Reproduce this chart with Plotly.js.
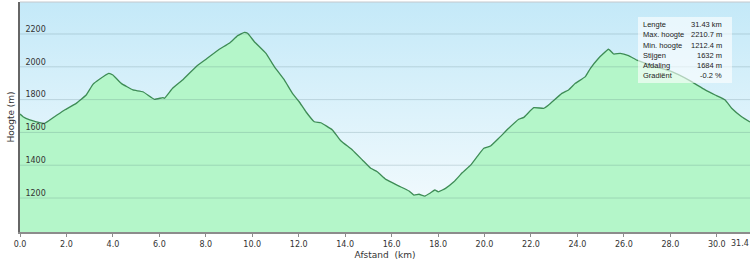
<!DOCTYPE html>
<html><head><meta charset="utf-8">
<script src="https://cdn.plot.ly/plotly-3.0.1.min.js"></script>
<style>html,body{margin:0;padding:0;background:#fff;overflow:hidden}#chart{width:750px;height:264px}</style>
</head><body><div id="chart"></div>
<script>
const distanceKm = [0, 0.13, 0.42, 0.70, 1.06, 1.49, 1.92, 2.42, 2.85, 3.14, 3.42, 3.82, 4.00, 4.36, 4.86, 5.29, 5.79, 6.15, 6.22, 6.57, 7.00, 7.58, 8.01, 8.58, 9.01, 9.37, 9.66, 9.80, 10.09, 10.59, 10.95, 11.38, 11.73, 12.02, 12.31, 12.67, 12.95, 13.45, 13.81, 14.31, 14.74, 15.10, 15.38, 15.75, 16.32, 16.75, 16.96, 17.18, 17.43, 17.68, 17.86, 18.01, 18.32, 18.68, 19.04, 19.40, 19.68, 19.97, 20.26, 20.61, 21.04, 21.47, 21.69, 22.12, 22.55, 22.76, 23.33, 23.62, 23.91, 24.34, 24.56, 24.91, 25.05, 25.34, 25.56, 25.84, 26.20, 26.56, 27.35, 28.06, 28.78, 29.50, 29.93, 30.36, 30.64, 31.07, 31.43];
const elevationM = [1712, 1696, 1676, 1665, 1655, 1696, 1737, 1777, 1828, 1893, 1924, 1960, 1950, 1899, 1859, 1848, 1802, 1812, 1808, 1869, 1920, 2001, 2046, 2107, 2143, 2190, 2210, 2204, 2153, 2082, 2001, 1920, 1838, 1787, 1726, 1665, 1659, 1615, 1549, 1493, 1432, 1381, 1360, 1314, 1273, 1243, 1218, 1223, 1212, 1232, 1249, 1238, 1259, 1299, 1354, 1401, 1452, 1503, 1517, 1564, 1625, 1680, 1692, 1751, 1747, 1767, 1838, 1859, 1899, 1940, 1991, 2052, 2072, 2107, 2078, 2082, 2068, 2041, 2001, 1970, 1920, 1859, 1828, 1798, 1747, 1696, 1664];
const yTickVals = [1200, 1400, 1600, 1800, 2000, 2200];
const xTickVals = [0, 2, 4, 6, 8, 10, 12, 14, 16, 18, 20, 22, 24, 26, 28, 30, 31.43];
const xTickText = ['0.0', '2.0', '4.0', '6.0', '8.0', '10.0', '12.0', '14.0', '16.0', '18.0', '20.0', '22.0', '24.0', '26.0', '28.0', '30.0', '31.4'];
const statLabels = ['Lengte', 'Max. hoogte', 'Min. hoogte', 'Stijgen', 'Afdaling', 'Gradiënt'];
const statValues = ['31.43 km', '2210.7 m', '1212.4 m', '1632 m', '1684 m', '-0.2 %'];

const FONT = 'DejaVu Sans, Verdana, sans-serif';
const SFONT = 'Liberation Sans, Arial, sans-serif';
const svg = "<svg xmlns='http://www.w3.org/2000/svg' width='100' height='100' viewBox='0 0 100 100' preserveAspectRatio='none'><defs><linearGradient id='g' x1='0' y1='0' x2='0' y2='1'><stop offset='0' stop-color='#c4e9f8'/><stop offset='1' stop-color='#f7fcfe'/></linearGradient></defs><rect width='100' height='100' fill='url(#g)'/></svg>";
const bgSrc = 'data:image/svg+xml;charset=utf-8,' + encodeURIComponent(svg);

const W = 750, H = 264, mL = 20, mR = 0, mT = 2, mB = 32;
const pw = W - mL - mR, ph = H - mT - mB;
const px2x = p => (p - mL) / pw;
const py2y = p => (H - mB - p) / ph;

const shapes = yTickVals.map(v => ({type: 'line', xref: 'paper', x0: 0, x1: 1, yref: 'y', y0: v, y1: v, layer: 'above', line: {color: 'rgba(60,95,105,0.2)', width: 1}}));
shapes.push({type: 'line', xref: 'paper', yref: 'paper', x0: 0, x1: 1, y0: 1, y1: 1, layer: 'above', line: {color: '#c4c8cc', width: 1}});
shapes.push({type: 'rect', xref: 'paper', yref: 'paper', x0: px2x(638), x1: px2x(732), y0: py2y(83), y1: py2y(17), layer: 'above', fillcolor: 'rgba(255,255,255,0.6)', line: {width: 0}});

const rowY = [25, 35, 45, 55, 65, 75];
const annotations = [];
statLabels.forEach((t, i) => {
  annotations.push({xref: 'paper', yref: 'paper', x: px2x(641), y: py2y(rowY[i]), xanchor: 'left', yanchor: 'middle', text: t, showarrow: false, font: {family: SFONT, size: 7.5, color: '#222'}});
  annotations.push({xref: 'paper', yref: 'paper', x: px2x(724), y: py2y(rowY[i]), xanchor: 'right', yanchor: 'middle', text: statValues[i], showarrow: false, font: {family: SFONT, size: 7.5, color: '#222'}});
});
// last tick label kept inside the window, right-aligned at its tick
const lastIdx = xTickVals.length - 1;
annotations.push({xref: 'x', yref: 'paper', x: xTickVals[lastIdx], y: py2y(243), xanchor: 'right', yanchor: 'middle', xshift: 1, text: xTickText[lastIdx], showarrow: false, font: {family: FONT, size: 8, color: '#333'}});
const axisTickText = xTickText.map((t, i) => i === lastIdx ? '' : t);

const trace = {
  x: distanceKm, y: elevationM, type: 'scatter', mode: 'lines',
  fill: 'tozeroy', fillcolor: 'rgb(180,246,201)',
  line: {color: 'rgb(62,140,86)', width: 1.3, shape: 'spline', smoothing: 0.3},
  hoverinfo: 'skip'
};

const layout = {
  width: W, height: H,
  margin: {l: mL, r: mR, t: mT, b: mB},
  paper_bgcolor: '#ffffff', plot_bgcolor: 'rgba(0,0,0,0)',
  showlegend: false,
  font: {family: FONT, size: 8, color: '#333'},
  images: [{source: bgSrc, xref: 'paper', yref: 'paper', x: 0, y: 1, sizex: 1, sizey: 1, xanchor: 'left', yanchor: 'top', sizing: 'stretch', layer: 'below'}],
  xaxis: {
    range: [0, 31.43], tickvals: xTickVals, ticktext: axisTickText,
    showgrid: false, zeroline: false, showline: true, linecolor: '#8c8c8c', linewidth: 2,
    ticks: 'outside', ticklen: 3, tickcolor: '#8c8c8c', tickwidth: 1,
    ticklabeloverflow: 'allow',
    tickfont: {family: FONT, size: 8, color: '#333'},
    title: {text: 'Afstand\u00a0\u00a0(km)', font: {family: FONT, size: 9, color: '#333'}, standoff: 4},
    fixedrange: true
  },
  yaxis: {
    range: [993, 2395], tickvals: yTickVals,
    showgrid: false, zeroline: false, showline: true, linecolor: '#666', linewidth: 2,
    ticks: '', ticklabelposition: 'inside', ticklabelshift: -5, ticklabelstandoff: 4,
    ticklabeloverflow: 'allow',
    tickfont: {family: FONT, size: 8, color: '#333'},
    title: {text: 'Hoogte (m)', font: {family: FONT, size: 9, color: '#333'}, standoff: 9},
    automargin: false, fixedrange: true
  },
  shapes: shapes,
  annotations: annotations
};

Plotly.newPlot('chart', [trace], layout, {displayModeBar: false, staticPlot: true});
</script></body></html>
